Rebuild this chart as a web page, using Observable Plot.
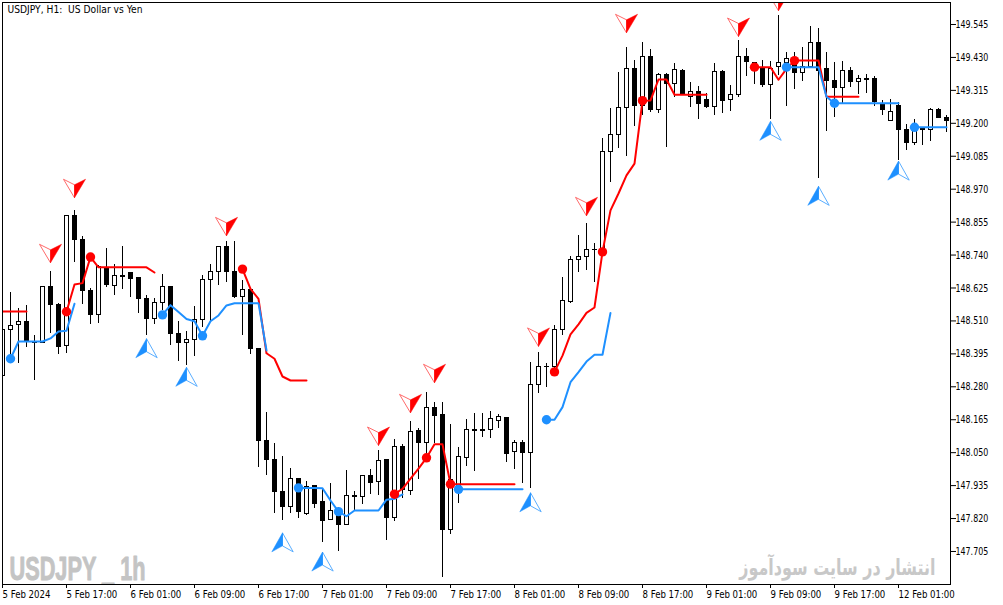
<!DOCTYPE html>
<html>
<head>
<meta charset="utf-8">
<script src="https://cdn.jsdelivr.net/npm/d3@7"></script>
<script src="https://cdn.jsdelivr.net/npm/@observablehq/plot@0.6"></script>
<style>html,body{margin:0;padding:0;background:#fff}svg{display:block}</style>
</head>
<body>
<div id="chart"></div>
<script>
const titleText = "USDJPY, H1:\u00a0\u00a0US Dollar vs Yen";
const watermark = "USDJPY _ 1h";
const persianNote = "انتشار در سایت سودآموز";
const yTicks = [149.545,149.43,149.315,149.2,149.085,148.97,148.855,148.74,148.625,148.51,148.395,148.28,148.165,148.05,147.935,147.82,147.705];
const xTickIndex = [0,8,16,24,32,40,48,56,64,72,80,88,96,104,112];
const xTickLabels = ["5 Feb 2024","5 Feb 17:00","6 Feb 01:00","6 Feb 09:00","6 Feb 17:00","7 Feb 01:00","7 Feb 09:00","7 Feb 17:00","8 Feb 01:00","8 Feb 09:00","8 Feb 17:00","9 Feb 01:00","9 Feb 09:00","9 Feb 17:00","12 Feb 01:00"];

const opens = [148.317,148.478,148.495,148.505,148.436,148.433,148.627,148.567,148.422,148.875,
148.794,148.615,148.530,148.694,148.631,148.667,148.679,148.660,148.587,148.516,
148.573,148.627,148.465,148.432,148.444,148.513,148.653,148.681,148.769,148.681,
148.593,148.619,148.413,148.092,148.023,147.914,147.860,147.959,147.835,147.932,
147.878,147.814,147.847,147.798,147.899,147.896,147.969,147.947,148.026,147.821,
148.070,147.916,148.124,148.083,148.206,148.180,147.779,147.924,148.032,148.127,
148.130,148.130,148.160,148.172,148.052,148.084,148.048,148.287,148.348,148.348,
148.479,148.575,148.723,148.734,148.756,148.756,149.099,149.160,149.254,149.390,
149.259,149.432,149.247,149.370,149.338,149.384,149.291,149.311,149.280,149.256,
149.380,149.281,149.298,149.432,149.412,149.391,149.334,149.396,149.411,149.409,
149.375,149.396,149.479,149.388,149.349,149.323,149.381,149.344,149.356,149.353,
149.267,149.209,149.259,149.178,149.131,149.177,149.177,149.248,149.220];
const highs = [148.479,148.608,148.552,148.564,148.459,148.628,148.683,148.570,148.878,148.896,
148.805,148.622,148.704,148.763,148.706,148.770,148.679,148.660,148.598,148.588,
148.672,148.627,148.508,148.472,148.560,148.667,148.707,148.769,148.787,148.787,
148.651,148.620,148.413,148.190,148.081,148.037,147.995,147.959,147.948,147.935,
147.924,147.941,147.860,147.988,147.914,147.969,147.992,148.058,148.026,148.096,
148.077,148.159,148.133,148.261,148.226,148.226,148.148,148.067,148.165,148.186,
148.186,148.194,148.182,148.174,148.092,148.092,148.365,148.400,148.362,148.494,
148.662,148.735,148.808,148.850,148.779,149.147,149.252,149.377,149.465,149.419,
149.482,149.457,149.374,149.374,149.408,149.387,149.344,149.329,149.304,149.408,
149.384,149.332,149.489,149.461,149.413,149.419,149.417,149.576,149.447,149.447,
149.466,149.538,149.531,149.448,149.413,149.416,149.395,149.366,149.370,149.363,
149.280,149.282,149.274,149.196,149.213,149.186,149.251,149.251,149.227];
const lows = [148.317,148.372,148.362,148.418,148.302,148.430,148.465,148.393,148.397,148.714,
148.567,148.498,148.502,148.626,148.599,148.620,148.593,148.537,148.459,148.498,
148.546,148.425,148.369,148.354,148.386,148.488,148.504,148.634,148.645,148.587,
148.459,148.393,147.999,147.970,147.839,147.813,147.839,147.821,147.831,147.854,
147.737,147.813,147.706,147.797,147.848,147.869,147.904,147.900,147.743,147.811,
147.889,147.900,147.955,148.040,148.081,147.615,147.764,147.874,148.002,147.985,
148.102,148.101,148.133,148.017,147.992,147.941,147.925,148.258,148.279,148.333,
148.459,148.572,148.680,148.686,148.645,148.735,148.994,149.113,149.085,149.189,
149.227,149.239,149.235,149.117,149.291,149.297,149.256,149.214,149.251,149.227,
149.234,149.241,149.291,149.363,149.336,149.326,149.212,149.367,149.259,149.318,
149.346,149.396,149.008,149.172,149.221,149.268,149.324,149.300,149.305,149.259,
149.227,149.207,149.070,149.105,149.123,149.123,149.138,149.216,149.169];
const closes = [148.479,148.493,148.505,148.436,148.433,148.627,148.564,148.418,148.875,148.794,
148.614,148.529,148.698,148.637,148.667,148.663,148.658,148.586,148.516,148.573,
148.629,148.464,148.432,148.444,148.514,148.653,148.681,148.769,148.680,148.593,
148.619,148.411,148.090,148.024,147.912,147.860,147.959,147.842,147.929,147.871,
147.813,147.847,147.797,147.899,147.895,147.969,147.943,148.021,147.821,148.070,
147.918,148.123,148.083,148.206,148.177,147.779,147.953,148.035,148.130,148.130,
148.127,148.168,148.175,148.044,148.084,148.048,148.288,148.350,148.350,148.479,
148.580,148.723,148.734,148.758,148.758,149.099,149.160,149.254,149.390,149.259,
149.432,149.245,149.368,149.336,149.387,149.301,149.309,149.267,149.256,149.380,
149.277,149.300,149.432,149.413,149.396,149.332,149.391,149.411,149.425,149.375,
149.398,149.479,149.384,149.346,149.323,149.383,149.344,149.355,149.351,149.276,
149.248,149.241,149.175,149.131,149.182,149.179,149.247,149.219,149.207];

const redStarts = [0,8,30,49,69,94];
const redValues = [
 [148.543,148.543,148.543,148.543],
 [148.542,148.637,148.642,148.733,148.697,148.697,148.697,148.697,148.697,148.697,148.697,148.679],
 [148.691,148.622,148.587,148.397,148.378,148.316,148.302,148.302,148.302],
 [147.905,147.924,147.959,147.994,148.032,148.079,148.079,147.940,147.940,147.940,147.940,147.940,147.940,147.940,147.940,147.940],
 [148.332,148.389,148.463,148.498,148.538,148.557,148.751,148.896,148.955,149.018,149.059,149.279,149.280,149.353,149.353,149.300,149.300,149.300,149.300,149.300],
 [149.396,149.396,149.396,149.352,149.390,149.419,149.419,149.419,149.419,149.293,149.293,149.293,149.293,149.293]
];
const blueStarts = [1,20,37,57,68,98,114];
const blueValues = [
 [148.378,148.438,148.438,148.438,148.438,148.449,148.473,148.476,148.570],
 [148.531,148.565,148.541,148.517,148.509,148.458,148.509,148.529,148.564,148.572,148.572,148.572,148.572,148.407],
 [147.927,147.927,147.927,147.926,147.883,147.844,147.828,147.848,147.848,147.848,147.848,147.886,147.889,147.904],
 [147.922,147.922,147.922,147.922,147.922,147.922,147.922,147.922,147.922],
 [148.165,148.165,148.209,148.296,148.331,148.368,148.392,148.392,148.538],
 [149.396,149.396,149.396,149.396,149.396,149.293,149.270,149.270,149.270,149.270,149.270,149.270,149.270,149.270,149.270],
 [149.186,149.186,149.186,149.186,149.186]
];
const redDotIndex = [8,11,30,49,53,56,69,75,80,94,99];
const blueDotIndex = [1,20,25,37,42,57,68,98,104,114];
const redArrowIndex = [6,9,28,47,51,54,67,73,78,92,97];
const redArrowPrice = [148.713,148.940,148.807,148.075,148.189,148.294,148.421,148.877,149.516,149.503,149.593];
const blueArrowIndex = [18,23,35,40,66,96,102,112];
const blueArrowPrice = [148.448,148.348,147.770,147.703,147.910,149.207,148.980,149.068];

const candles = opens.map((o,i)=>({i,o,h:highs[i],l:lows[i],c:closes[i],up:closes[i]>=o}));
const flatten = (starts,vals)=>starts.flatMap((s,k)=>vals[k].map((v,j)=>({i:s+j,v,seg:k})));
const redLine = flatten(redStarts,redValues);
const blueLine = flatten(blueStarts,blueValues);
const pick = (line,idx)=>idx.map(i=>line.find(d=>d.i===i));
const redArrows = redArrowIndex.map((i,k)=>({i,v:redArrowPrice[k]}));
const blueArrows = blueArrowIndex.map((i,k)=>({i,v:blueArrowPrice[k]}));

const poly = pts=>({draw(ctx){pts.forEach((p,k)=>k?ctx.lineTo(p[0],p[1]):ctx.moveTo(p[0],p[1]));ctx.closePath();}});
const redSolid = poly([[0,0],[0,-13],[11,-18.5]]);
const redHollow = poly([[0,0],[0,-13],[-11,-18.5]]);
const blueSolid = poly([[0,0],[0,13],[-10.7,19]]);
const blueHollow = poly([[0,0],[0,13],[10.7,19]]);

const RED="#ff0000", BLUE="#1e90ff", FONT="'DejaVu Sans',sans-serif";
const crisp = {shapeRendering:"crispEdges"};

const plot = Plot.plot({
  width:1003, height:605,
  marginLeft:2, marginRight:53, marginTop:2, marginBottom:21,
  style:{background:"#fff",fontFamily:FONT,fontSize:"11px",color:"#000"},
  x:{type:"linear",domain:[0,118.5],axis:null},
  y:{type:"linear",domain:[147.5897,149.6218],axis:null},
  marks:[
    Plot.ruleX(candles,{x:"i",y1:"l",y2:"h",stroke:"#000",strokeWidth:1,clip:true,...crisp}),
    Plot.rect(candles,{x1:d=>d.i-0.25,x2:d=>d.i+0.25,y1:d=>Math.min(d.o,d.c),y2:d=>Math.max(d.o,d.c),
      fill:d=>d.up?"#fff":"#000",stroke:"#000",strokeWidth:1,clip:true,...crisp}),
    Plot.line(redLine,{x:"i",y:"v",z:"seg",stroke:RED,strokeWidth:2,curve:"linear",clip:true}),
    Plot.line(blueLine,{x:"i",y:"v",z:"seg",stroke:BLUE,strokeWidth:2,curve:"linear",clip:true}),
    Plot.dot(pick(blueLine,blueDotIndex),{x:"i",y:"v",r:4.7,fill:BLUE,stroke:"none"}),
    Plot.dot(pick(redLine,redDotIndex),{x:"i",y:"v",r:4.7,fill:RED,stroke:"none"}),
    Plot.dot(redArrows,{x:"i",y:"v",r:5,symbol:redHollow,fill:"#fff",stroke:"#ff6a6a",strokeWidth:1,clip:true}),
    Plot.dot(redArrows,{x:"i",y:"v",r:5,symbol:redSolid,fill:RED,stroke:RED,strokeWidth:0.5,clip:true}),
    Plot.dot(blueArrows,{x:"i",y:"v",r:5,symbol:blueHollow,fill:"#fff",stroke:"#5aaeff",strokeWidth:1,clip:true}),
    Plot.dot(blueArrows,{x:"i",y:"v",r:5,symbol:blueSolid,fill:BLUE,stroke:BLUE,strokeWidth:0.5,clip:true}),
    Plot.text([watermark],{text:d=>d,frameAnchor:"bottom-left",dx:7,dy:-5,fill:"#c4c4c4",stroke:"#c4c4c4",strokeWidth:1,fontSize:34,fontWeight:"bold",fontFamily:"'Liberation Sans',sans-serif",textAnchor:"start",ariaLabel:"watermark"}),
    Plot.text([persianNote],{text:d=>d,frameAnchor:"bottom-right",dx:-15,dy:-10,fill:"#c8c8c8",fontSize:22,fontWeight:"bold",fontFamily:"'DejaVu Sans',sans-serif",textAnchor:"end",ariaLabel:"note"}),
    Plot.text([titleText],{text:d=>d,frameAnchor:"top-left",dx:5,dy:3,fill:"#000",fontSize:11,fontFamily:"'DejaVu Sans',sans-serif",textAnchor:"start",ariaLabel:"title"}),
    Plot.frame({stroke:"#000",strokeWidth:1}),
    Plot.axisY({anchor:"right",ticks:yTicks,tickFormat:d=>d.toFixed(3),tickSize:5,tickPadding:0,label:null,fontSize:11,stroke:"#000",fill:"#000",ariaLabel:"y-axis"}),
    Plot.axisX({anchor:"bottom",ticks:xTickIndex,tickFormat:d=>xTickLabels[xTickIndex.indexOf(d)],textAnchor:"start",tickSize:4,tickPadding:2,label:null,fontSize:11,stroke:"#000",fill:"#000",ariaLabel:"x-axis"})
  ]
});
document.getElementById("chart").append(plot);
// Narrow the text to the condensed widths of the terminal font.
const fit = (el,len)=>{el.setAttribute("textLength",len);el.setAttribute("lengthAdjust","spacingAndGlyphs");};
plot.querySelectorAll("text").forEach(t=>{
  const label=t.textContent;
  if(label===watermark) fit(t,136);
  else if(label===persianNote){
    // Squeeze horizontally about the right edge, which stays in place.
    const b=t.getBBox(), right=b.x+b.width, s=197/b.width, old=t.getAttribute("transform")||"";
    t.setAttribute("transform",`${old} translate(${right},0) scale(${s},1) translate(${-right},0)`);
  }
  else if(label===titleText) fit(t,135);
  else fit(t,t.getComputedTextLength()*(label.includes("Feb")?0.78:0.72));
});
</script>
</body>
</html>
